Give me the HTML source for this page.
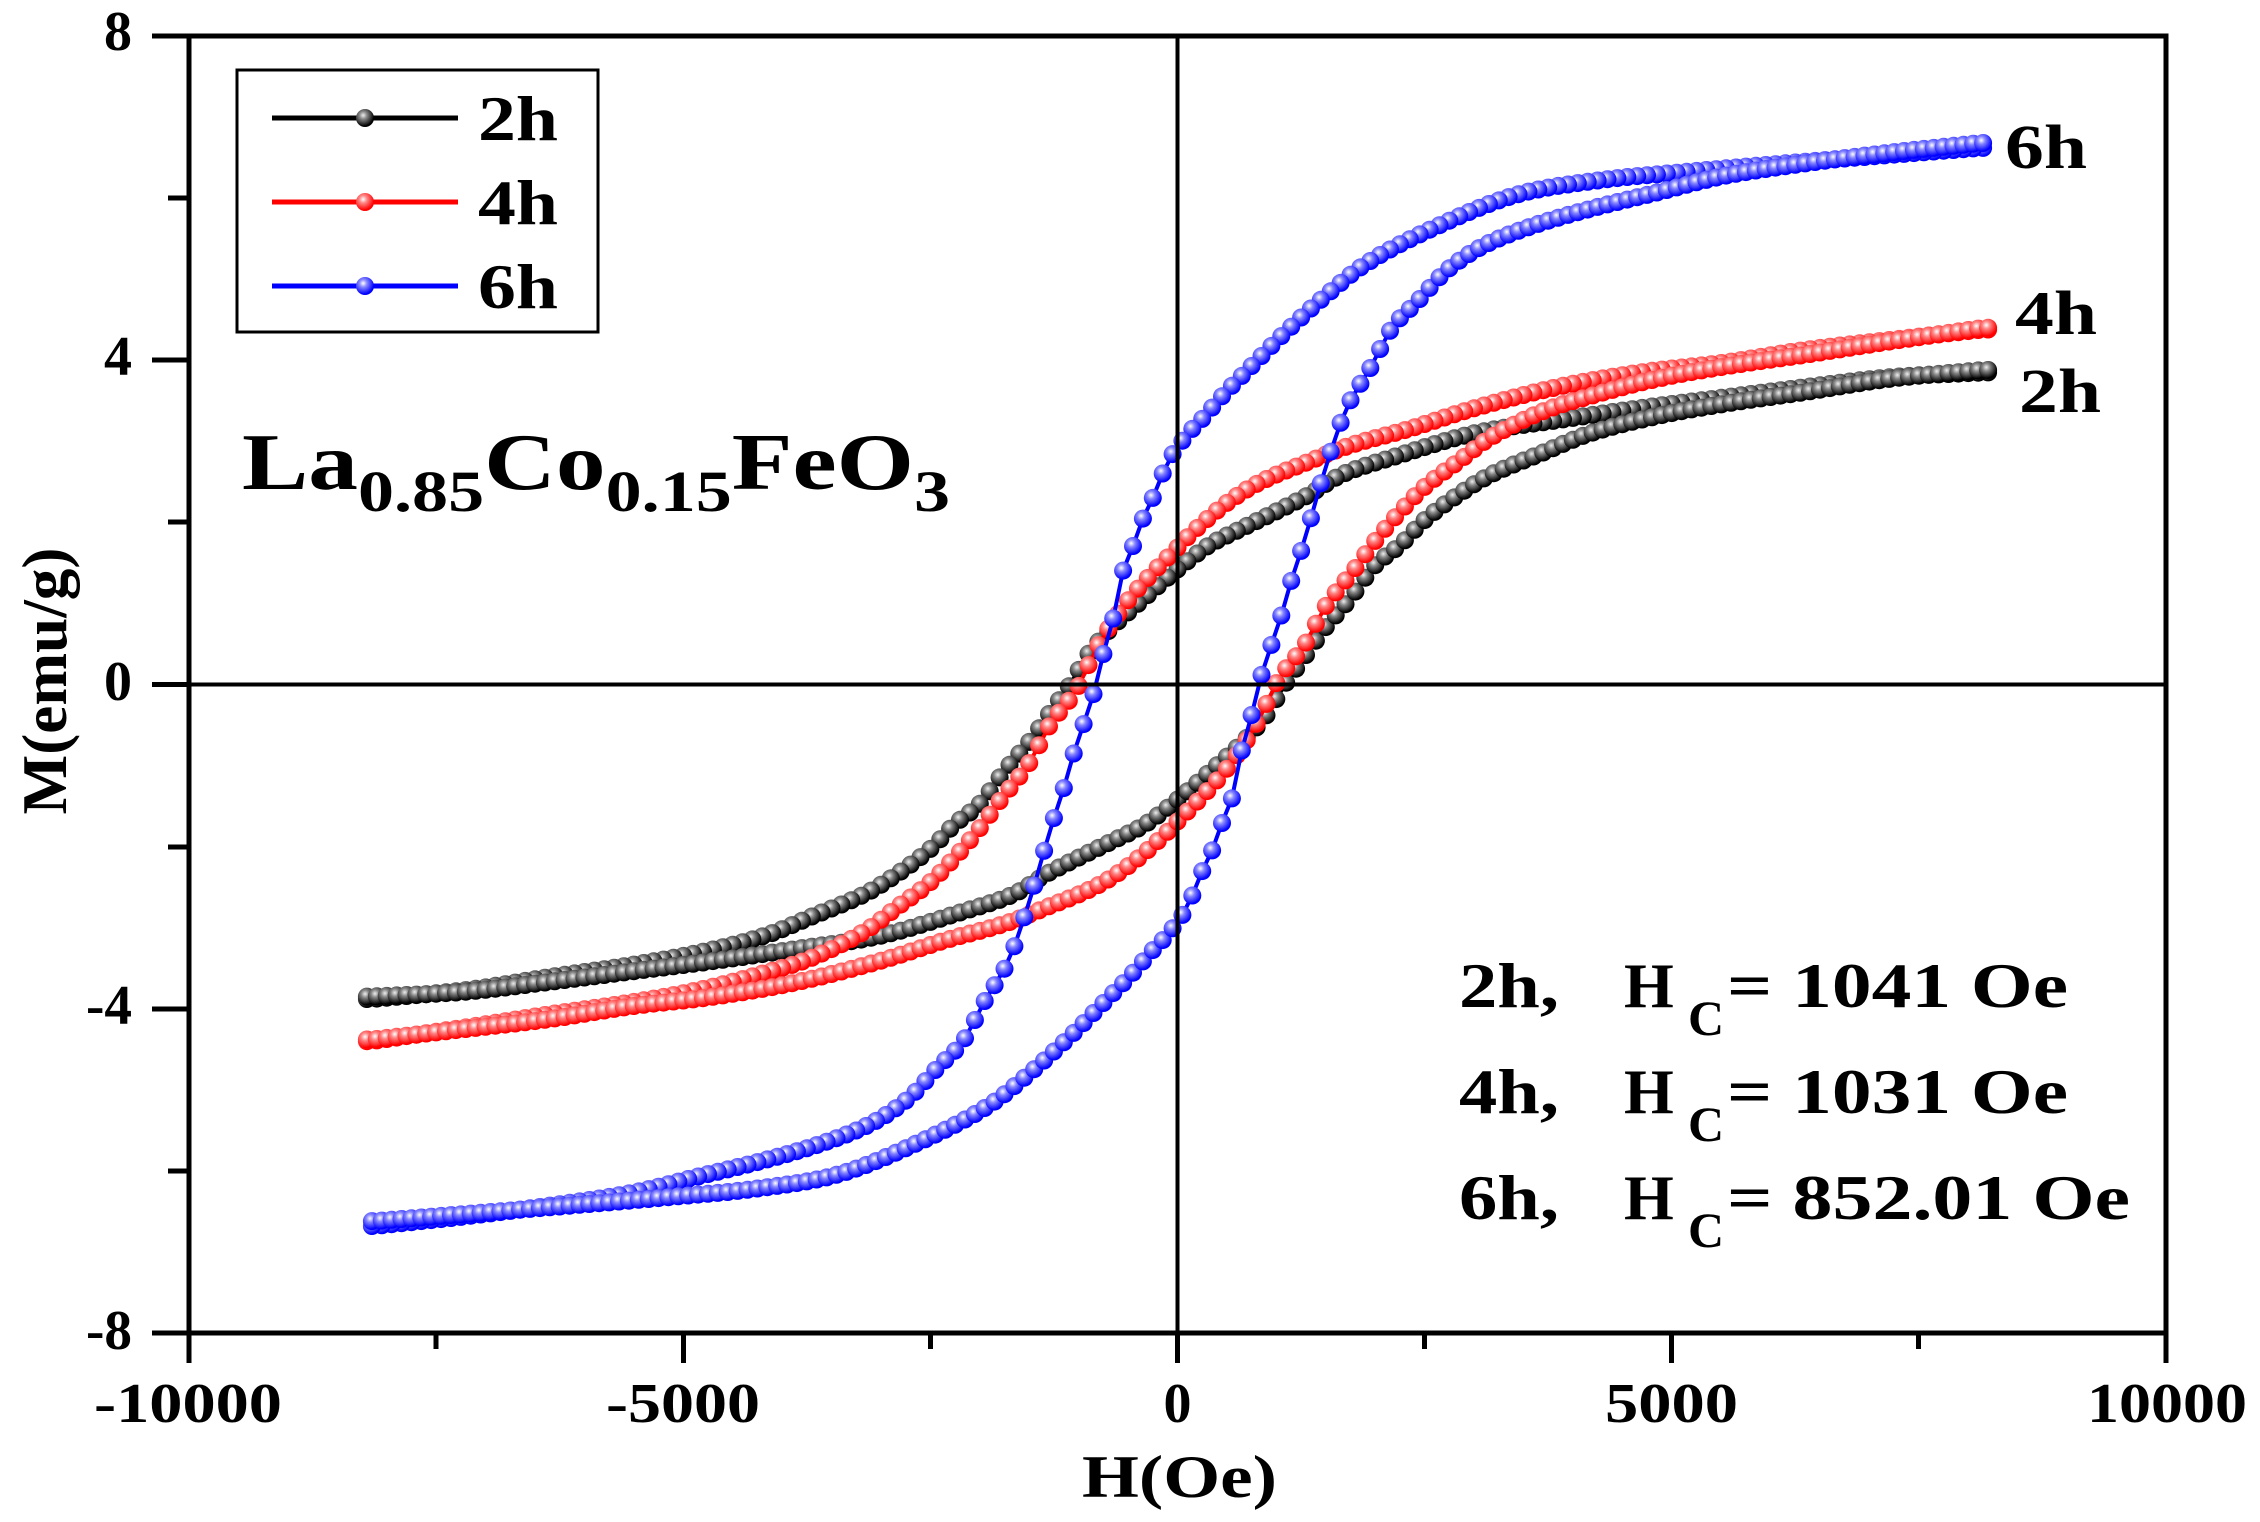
<!DOCTYPE html>
<html><head><meta charset="utf-8"><style>
html,body{margin:0;padding:0;background:#fff;}
svg{display:block;}
text{font-family:"Liberation Serif",serif;font-weight:bold;fill:#000;}
</style></head><body>
<svg id="s" width="2260" height="1522" viewBox="0 0 2260 1522" xmlns="http://www.w3.org/2000/svg">
<defs>
<radialGradient id="gk" cx="0.4" cy="0.35" r="0.6"><stop offset="0" stop-color="#eee"/><stop offset="0.35" stop-color="#888"/><stop offset="1" stop-color="#000"/></radialGradient>
<radialGradient id="gr" cx="0.4" cy="0.35" r="0.6"><stop offset="0" stop-color="#fff"/><stop offset="0.35" stop-color="#f88"/><stop offset="1" stop-color="#f00"/></radialGradient>
<radialGradient id="gb" cx="0.4" cy="0.35" r="0.6"><stop offset="0" stop-color="#fff"/><stop offset="0.35" stop-color="#88f"/><stop offset="1" stop-color="#00f"/></radialGradient>
</defs>
<g id="curves"></g>
<rect x="189" y="36" width="1977" height="1297" fill="none" stroke="#000" stroke-width="5"/>
<line x1="189" y1="684.5" x2="2166" y2="684.5" stroke="#000" stroke-width="4"/>
<line x1="1177.5" y1="36" x2="1177.5" y2="1333" stroke="#000" stroke-width="4"/>
<g stroke="#000" stroke-width="5">
<line x1="152" y1="36" x2="189" y2="36"/><line x1="168" y1="198" x2="189" y2="198"/>
<line x1="152" y1="360" x2="189" y2="360"/><line x1="168" y1="522" x2="189" y2="522"/>
<line x1="152" y1="684.5" x2="189" y2="684.5"/><line x1="168" y1="847" x2="189" y2="847"/>
<line x1="152" y1="1009" x2="189" y2="1009"/><line x1="168" y1="1171" x2="189" y2="1171"/>
<line x1="152" y1="1333" x2="189" y2="1333"/>
<line x1="189" y1="1333" x2="189" y2="1363"/><line x1="436" y1="1333" x2="436" y2="1349"/>
<line x1="683.5" y1="1333" x2="683.5" y2="1363"/><line x1="930.5" y1="1333" x2="930.5" y2="1349"/>
<line x1="1177.5" y1="1333" x2="1177.5" y2="1363"/><line x1="1424.5" y1="1333" x2="1424.5" y2="1349"/>
<line x1="1671.5" y1="1333" x2="1671.5" y2="1363"/><line x1="1918.5" y1="1333" x2="1918.5" y2="1349"/>
<line x1="2166" y1="1333" x2="2166" y2="1363"/>
</g>
<g font-size="56" text-anchor="end">
<text x="132" y="50">8</text><text x="132" y="375">4</text><text x="132" y="700">0</text>
<text x="132" y="1024" textLength="46" lengthAdjust="spacingAndGlyphs">-4</text><text x="132" y="1349" textLength="46" lengthAdjust="spacingAndGlyphs">-8</text>
</g>
<g font-size="56" lengthAdjust="spacingAndGlyphs">
<text x="94" y="1422" textLength="188" lengthAdjust="spacingAndGlyphs">-10000</text>
<text x="606" y="1422" textLength="154" lengthAdjust="spacingAndGlyphs">-5000</text>
<text x="1177.5" y="1422" text-anchor="middle">0</text>
<text x="1605" y="1422" textLength="133" lengthAdjust="spacingAndGlyphs">5000</text>
<text x="2087" y="1422" textLength="160" lengthAdjust="spacingAndGlyphs">10000</text>
</g>
<text x="1082" y="1497" font-size="60" textLength="195" lengthAdjust="spacingAndGlyphs">H(Oe)</text>
<text transform="translate(66,681) rotate(-90)" font-size="64" text-anchor="middle" textLength="267" lengthAdjust="spacingAndGlyphs">M(emu/g)</text>
<rect x="237" y="70" width="361" height="262" fill="#fff" stroke="#000" stroke-width="3"/>
<line x1="272" y1="118" x2="458" y2="118" stroke="#000" stroke-width="5"/><circle cx="365" cy="118" r="9" fill="url(#gk)"/>
<line x1="272" y1="202" x2="458" y2="202" stroke="#f00" stroke-width="5"/><circle cx="365" cy="202" r="9" fill="url(#gr)"/>
<line x1="272" y1="286" x2="458" y2="286" stroke="#00f" stroke-width="5"/><circle cx="365" cy="286" r="9" fill="url(#gb)"/>
<g font-size="64"><text x="478" y="140" textLength="80" lengthAdjust="spacingAndGlyphs">2h</text><text x="478" y="224" textLength="80" lengthAdjust="spacingAndGlyphs">4h</text><text x="478" y="308" textLength="80" lengthAdjust="spacingAndGlyphs">6h</text></g>
<text x="242" y="489" font-size="80" textLength="708" lengthAdjust="spacingAndGlyphs">La<tspan font-size="58" dy="22">0.85</tspan><tspan dy="-22">Co</tspan><tspan font-size="58" dy="22">0.15</tspan><tspan dy="-22">FeO</tspan><tspan font-size="58" dy="22">3</tspan></text>
<g font-size="62"><text x="2005" y="168" textLength="82" lengthAdjust="spacingAndGlyphs">6h</text><text x="2015" y="334" textLength="82" lengthAdjust="spacingAndGlyphs">4h</text><text x="2019" y="412" textLength="82" lengthAdjust="spacingAndGlyphs">2h</text></g>
<g font-size="64">
<text x="1459" y="1007" textLength="100" lengthAdjust="spacingAndGlyphs">2h,</text><text x="1624" y="1007">H</text><text x="1688" y="1035" font-size="50">C</text><text x="1727" y="1007" textLength="341" lengthAdjust="spacingAndGlyphs">= 1041 Oe</text>
<text x="1459" y="1113" textLength="100" lengthAdjust="spacingAndGlyphs">4h,</text><text x="1624" y="1113">H</text><text x="1688" y="1141" font-size="50">C</text><text x="1727" y="1113" textLength="341" lengthAdjust="spacingAndGlyphs">= 1031 Oe</text>
<text x="1459" y="1219" textLength="100" lengthAdjust="spacingAndGlyphs">6h,</text><text x="1624" y="1219">H</text><text x="1688" y="1247" font-size="50">C</text><text x="1727" y="1219" textLength="403" lengthAdjust="spacingAndGlyphs">= 852.01 Oe</text>
</g>
</svg>
<script>
(function(){
var up2=[[8150,3.85],[7200,3.79],[6360,3.67],[5522,3.54],[4683,3.41],[3844,3.26],[3006,3.10],[2167,2.80],[1663,2.59],[1327,2.34],[992,2.13],[657,1.93],[321,1.72],[0,1.42],[-349,1.05],[-650,0.72],[-900,0.38],[-1077,0.02],[-1286,-0.34],[-1495,-0.70],[-1747,-1.06],[-1999,-1.47],[-2250,-1.72],[-2502,-2.03],[-2838,-2.34],[-3173,-2.59],[-3676,-2.85],[-4180,-3.10],[-4851,-3.31],[-5522,-3.46],[-6360,-3.61],[-7200,-3.77],[-8150,-3.88]];
var up4=[[8150,4.38],[7200,4.25],[6360,4.13],[5522,3.97],[4683,3.85],[3844,3.67],[3006,3.41],[2334,3.15],[1745,2.95],[1327,2.75],[824,2.49],[489,2.23],[153,1.88],[-15,1.67],[-266,1.36],[-518,1.01],[-770,0.55],[-908,0.22],[-1034,-0.09],[-1286,-0.49],[-1495,-0.96],[-1789,-1.42],[-1999,-1.77],[-2250,-2.13],[-2502,-2.44],[-2838,-2.75],[-3173,-3.05],[-3676,-3.36],[-4180,-3.56],[-4851,-3.77],[-5522,-3.92],[-6360,-4.07],[-7200,-4.23],[-8150,-4.40]];
var up6=[[8118,6.62],[6358,6.45],[5104,6.32],[4264,6.22],[3424,6.04],[2585,5.63],[1917,5.20],[1492,4.79],[1077,4.33],[743,3.92],[491,3.61],[238,3.26],[111,3.10],[-96,2.75],[-228,2.36],[-349,2.05],[-430,1.77],[-561,1.36],[-643,0.85],[-769,0.29],[-855,-0.14],[-1037,-0.80],[-1158,-1.31],[-1290,-1.80],[-1492,-2.65],[-1704,-3.39],[-1957,-3.92],[-2170,-4.40],[-2423,-4.72],[-2716,-5.10],[-3090,-5.41],[-3596,-5.66],[-4183,-5.87],[-4850,-6.07],[-5518,-6.27],[-6358,-6.43],[-7197,-6.56],[-8118,-6.68]];
function interp(pts,h){pts=pts.slice().sort(function(a,b){return a[0]-b[0];});
 if(h<=pts[0][0])return pts[0][1]; var n=pts.length; if(h>=pts[n-1][0])return pts[n-1][1];
 for(var i=0;i<n-1;i++){if(h<=pts[i+1][0]){var p0=pts[Math.max(0,i-1)],p1=pts[i],p2=pts[i+1],p3=pts[Math.min(n-1,i+2)];
  var t=(h-p1[0])/(p2[0]-p1[0]);
  var m1=(p2[1]-p0[1])/(p2[0]-p0[0])*(p2[0]-p1[0]), m2=(p3[1]-p1[1])/(p3[0]-p1[0])*(p2[0]-p1[0]);
  var t2=t*t,t3=t2*t;return (2*t3-3*t2+1)*p1[1]+(t3-2*t2+t)*m1+(-2*t3+3*t2)*p2[1]+(t3-t2)*m2;}}}
function X(h){return 1177.5+h*0.098850;} function Y(m){return 684.5-m*81.06;}
var g=document.getElementById('curves'),NS='http://www.w3.org/2000/svg';
function draw(pts,col,grad,hmax){
 var ptsU=[],ptsL=[];
 for(var h=hmax;h>=-hmax;h-=100){ptsU.push([X(h),Y(interp(pts,h))]);}
 for(var h=-hmax;h<=hmax;h+=100){ptsL.push([X(h),Y(-interp(pts,-h))]);}
 [ptsU,ptsL].forEach(function(P){
  var pl=document.createElementNS(NS,'polyline');pl.setAttribute('points',P.map(function(p){return p[0].toFixed(1)+','+p[1].toFixed(1);}).join(' '));
  pl.setAttribute('fill','none');pl.setAttribute('stroke',col);pl.setAttribute('stroke-width','4');g.appendChild(pl);
  P.forEach(function(p){var c=document.createElementNS(NS,'circle');c.setAttribute('cx',p[0].toFixed(1));c.setAttribute('cy',p[1].toFixed(1));c.setAttribute('r','9');c.setAttribute('fill','url(#'+grad+')');g.appendChild(c);});
 });
}
draw(up2,'#000','gk',8200);draw(up4,'#f00','gr',8200);draw(up6,'#00f','gb',8150);
})();
</script>
</body></html>
